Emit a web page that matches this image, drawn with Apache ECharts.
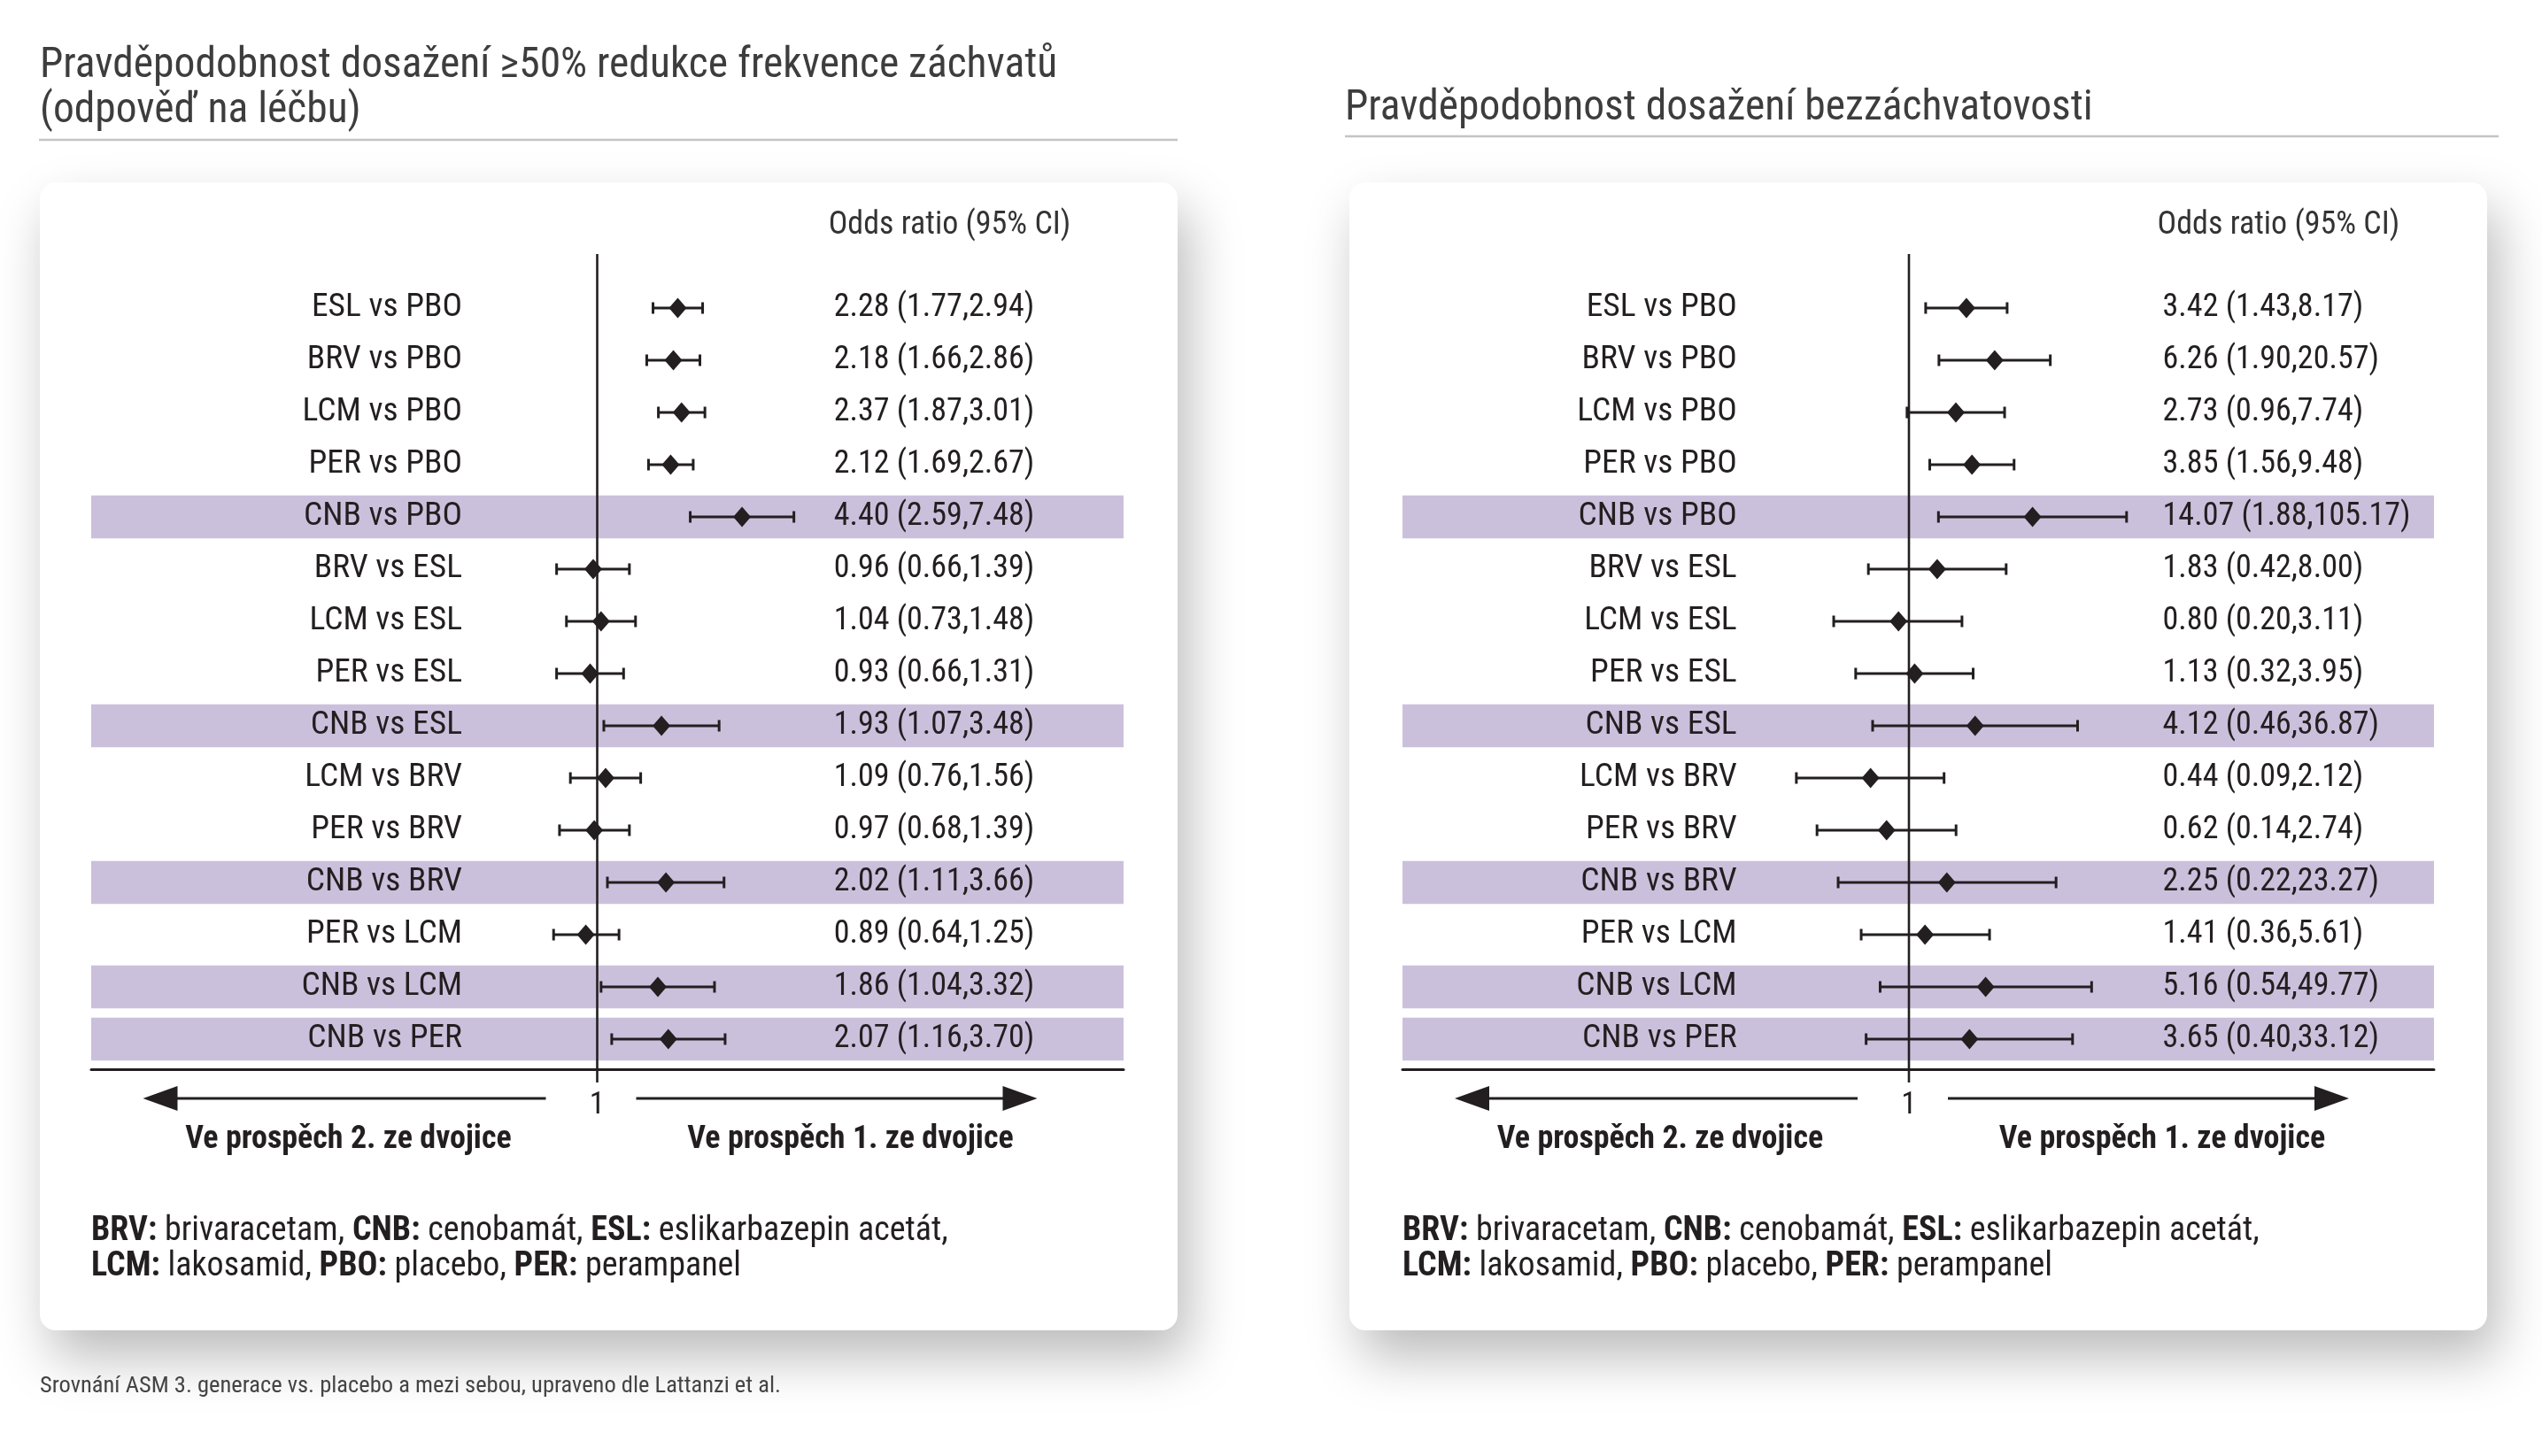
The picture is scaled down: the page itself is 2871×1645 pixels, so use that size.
<!DOCTYPE html>
<html><head><meta charset="utf-8">
<script src="https://cdn.jsdelivr.net/npm/echarts@6/dist/echarts.min.js"></script>
<style>html,body{margin:0;padding:0;background:#fff}#c{width:2871px;height:1645px}</style>
</head><body><div id="c"></div>
<script>
// ---------------- DATA ----------------
const categories = ['ESL vs PBO','BRV vs PBO','LCM vs PBO','PER vs PBO','CNB vs PBO','BRV vs ESL','LCM vs ESL','PER vs ESL','CNB vs ESL','LCM vs BRV','PER vs BRV','CNB vs BRV','PER vs LCM','CNB vs LCM','CNB vs PER'];
// left panel: >=50% responder
const orLeft = [2.28,2.18,2.37,2.12,4.40,0.96,1.04,0.93,1.93,1.09,0.97,2.02,0.89,1.86,2.07];
const loLeft = [1.77,1.66,1.87,1.69,2.59,0.66,0.73,0.66,1.07,0.76,0.68,1.11,0.64,1.04,1.16];
const hiLeft = [2.94,2.86,3.01,2.67,7.48,1.39,1.48,1.31,3.48,1.56,1.39,3.66,1.25,3.32,3.70];
// right panel: seizure freedom
const orRight = [3.42,6.26,2.73,3.85,14.07,1.83,0.80,1.13,4.12,0.44,0.62,2.25,1.41,5.16,3.65];
const loRight = [1.43,1.90,0.96,1.56,1.88,0.42,0.20,0.32,0.46,0.09,0.14,0.22,0.36,0.54,0.40];
const hiRight = [8.17,20.57,7.74,9.48,105.17,8.00,3.11,3.95,36.87,2.12,2.74,23.27,5.61,49.77,33.12];
const refValue = 1;
const titleLeftLines = ['Pravděpodobnost dosažení ≥50% redukce frekvence záchvatů','(odpověď na léčbu)'];
const titleRight = 'Pravděpodobnost dosažení bezzáchvatovosti';
const headerText = 'Odds ratio (95% CI)';
const favourSecond = 'Ve prospěch 2. ze dvojice';
const favourFirst = 'Ve prospěch 1. ze dvojice';
const refLabel = '1';
const abbrLine1 = [['BRV:','brivaracetam,'],['CNB:','cenobamát,'],['ESL:','eslikarbazepin acetát,']];
const abbrLine2 = [['LCM:','lakosamid,'],['PBO:','placebo,'],['PER:','perampanel']];
const caption = 'Srovnání ASM 3. generace vs. placebo a mezi sebou, upraveno dle Lattanzi et al.';

// ---------------- STYLE / LAYOUT ----------------
const FONT = '"Liberation Sans Narrow","Roboto Condensed","DejaVu Sans Condensed","Liberation Sans",sans-serif';
const INK = '#231f20';
const BAND = '#cbc0dc';
const fmt = v => v.toFixed(2);
const valueLabels = (o,l,h) => o.map((v,i)=>`${fmt(v)} (${fmt(l[i])},${fmt(h[i])})`);
const highlight = categories.map((c,i)=>c.startsWith('CNB')?i:-1).filter(i=>i>=0);

const rowH = 59, gridTop = 348 - rowH/2, gridH = rowH*categories.length;
const panels = [
  {left:103, width:1166, x1:674.5, k:110.4, labelRight:522, valueLeft:941.7, card:45,
   or:orLeft, lo:loLeft, hi:hiLeft},
  {left:1584, width:1165, x1:2156, k:52.8, labelRight:1961.7, valueLeft:2442.6, card:1524,
   or:orRight, lo:loRight, hi:hiRight}
];

const grid=[], xAxis=[], yAxis=[], series=[];
panels.forEach((p,gi)=>{
  grid.push({left:p.left, top:gridTop, width:p.width, height:gridH});
  xAxis.push({type:'log', gridIndex:gi, logBase:10, z:6,
    min:Math.exp((p.left-p.x1)/p.k), max:Math.exp((p.left+p.width-p.x1)/p.k),
    offset:5, axisLine:{show:true, lineStyle:{color:INK, width:3}},
    axisTick:{show:false}, axisLabel:{show:false}, splitLine:{show:false}});
  yAxis.push({type:'category', gridIndex:gi, data:categories, inverse:true, position:'left', z:10,
    offset:-(p.labelRight-p.left), axisLine:{show:false}, axisTick:{show:false},
    axisLabel:{margin:0, align:'right', fontFamily:FONT, fontSize:37.5, color:INK, interval:0}});
  yAxis.push({type:'category', gridIndex:gi, data:valueLabels(p.or,p.lo,p.hi), inverse:true, position:'left', z:10,
    offset:-(p.valueLeft-p.left), axisLine:{show:false}, axisTick:{show:false},
    axisLabel:{margin:0, align:'left', fontFamily:FONT, fontSize:36, color:INK, interval:0}});
  const ya = gi*2;
  // highlight bands
  series.push({type:'custom', xAxisIndex:gi, yAxisIndex:ya, z:1, silent:true,
    data:highlight.map(i=>[refValue,i]), encode:{x:0,y:1},
    renderItem:(params,api)=>{
      const c = api.coord([api.value(0), api.value(1)]);
      const cs = params.coordSys; const bh = rowH*0.82;
      return {type:'rect', shape:{x:cs.x, y:c[1]-bh/2, width:cs.width, height:bh}, style:{fill:BAND}};
    }});
  // reference line at OR = 1
  series.push({type:'custom', xAxisIndex:gi, yAxisIndex:ya, z:11, silent:true,
    data:[[refValue,0]], encode:{x:0,y:1},
    renderItem:(params,api)=>{
      const c = api.coord([api.value(0), api.value(1)]);
      const cs = params.coordSys;
      return {type:'line', shape:{x1:c[0], y1:cs.y-31.5, x2:c[0], y2:cs.y+cs.height+19.5},
        style:{stroke:INK, lineWidth:2.6}};
    }});
  // confidence intervals
  series.push({type:'custom', xAxisIndex:gi, yAxisIndex:ya, z:12, silent:true,
    data:p.lo.map((l,i)=>[l,p.hi[i],i]), encode:{x:[0,1],y:2},
    renderItem:(params,api)=>{
      const a = api.coord([api.value(0), api.value(2)]);
      const b = api.coord([api.value(1), api.value(2)]);
      const y=a[1], cap=6.5, st={stroke:INK, lineWidth:3};
      return {type:'group', children:[
        {type:'line', shape:{x1:a[0],y1:y,x2:b[0],y2:y}, style:st},
        {type:'line', shape:{x1:a[0],y1:y-cap,x2:a[0],y2:y+cap}, style:st},
        {type:'line', shape:{x1:b[0],y1:y-cap,x2:b[0],y2:y+cap}, style:st}
      ]};
    }});
  // point estimates
  series.push({type:'scatter', xAxisIndex:gi, yAxisIndex:ya, z:13, silent:true,
    symbol:'diamond', symbolSize:[20,23], itemStyle:{color:INK, opacity:1},
    data:p.or.map((v,i)=>[v,i])});
});

// ---------------- DECORATION (graphic) ----------------
const g = [];
panels.forEach(p=>{
  g.push({type:'rect', z:0, shape:{x:p.card, y:206, width:1285, height:1297, r:18},
    style:{fill:'#fff', shadowBlur:60, shadowColor:'rgba(0,0,0,0.27)', shadowOffsetX:12, shadowOffsetY:30}});
});
const txt = (x,y,text,opt)=>Object.assign({type:'text', z:20, style:Object.assign({x,y,text,fill:INK,fontFamily:FONT,fontSize:36,align:'left',verticalAlign:'middle'},opt||{})});
// titles
g.push(txt(45,75,titleLeftLines[0],{fontSize:47.5,fill:'#3d3d3d'}));
g.push(txt(45,126,titleLeftLines[1],{fontSize:47.5,fill:'#3d3d3d'}));
g.push(txt(1519,123,titleRight,{fontSize:47.5,fill:'#3d3d3d'}));
g.push({type:'line', z:20, shape:{x1:44,y1:158,x2:1330,y2:158}, style:{stroke:'#c4c4c4', lineWidth:2.5}});
g.push({type:'line', z:20, shape:{x1:1519,y1:154,x2:2822,y2:154}, style:{stroke:'#c4c4c4', lineWidth:2.5}});
panels.forEach(p=>{
  const x1=p.x1, ay=1241;
  g.push(txt(p.valueLeft-6,255,headerText,{fontSize:36,fill:'#333'}));
  g.push({type:'polygon', z:20, shape:{points:[[x1-513,ay],[x1-474,ay-14],[x1-474,ay+14]]}, style:{fill:INK}});
  g.push({type:'line', z:20, shape:{x1:x1-476,y1:ay,x2:x1-58,y2:ay}, style:{stroke:INK,lineWidth:3}});
  g.push({type:'polygon', z:20, shape:{points:[[x1+497,ay],[x1+458,ay-14],[x1+458,ay+14]]}, style:{fill:INK}});
  g.push({type:'line', z:20, shape:{x1:x1+44,y1:ay,x2:x1+460,y2:ay}, style:{stroke:INK,lineWidth:3}});
  g.push(txt(x1,1249,refLabel,{align:'center',fontSize:35}));
  g.push(txt(x1-281,1288,favourSecond,{align:'center',fontWeight:'bold',fontSize:36}));
  g.push(txt(x1+286,1288,favourFirst,{align:'center',fontWeight:'bold',fontSize:36}));
  const fs = 38;
  const rich = {b:{fontWeight:'bold',fontFamily:FONT,fontSize:fs,fill:INK}, n:{fontFamily:FONT,fontSize:fs,fill:INK}};
  const line = arr=>arr.map(([a,b])=>`{b|${a}}{n| ${b}}`).join('{n| }');
  g.push(txt(p.left,1391,line(abbrLine1),{fontSize:fs,rich}));
  g.push(txt(p.left,1431,line(abbrLine2),{fontSize:fs,rich}));
});
g.push(txt(45,1566,caption,{fontSize:26.5,fill:'#444'}));

const chart = echarts.init(document.getElementById('c'), null, {renderer:'canvas'});
chart.setOption({backgroundColor:'#fff', animation:false, grid, xAxis, yAxis, series, graphic:{elements:g}});
</script></body></html>
